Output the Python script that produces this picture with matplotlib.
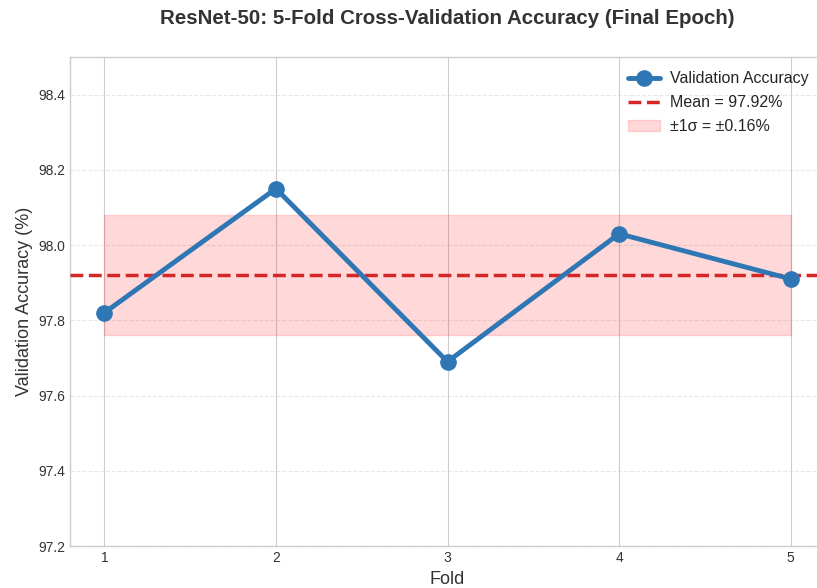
import numpy as np
import matplotlib
matplotlib.use("Agg")
import matplotlib.pyplot as plt

plt.style.use("seaborn-v0_8-whitegrid")
plt.rcParams['font.family'] = ['Liberation Sans', 'DejaVu Sans']

folds = [1, 2, 3, 4, 5]
accuracy = [97.82, 98.15, 97.69, 98.03, 97.91]
yticks = [97.2, 97.4, 97.6, 97.8, 98.0, 98.2, 98.4]

mean_acc = np.mean(accuracy)
std_acc = np.std(accuracy)

fig = plt.figure(figsize=(8.17, 5.88), dpi=100)
W, H = 817, 588
ax = fig.add_axes([70 / W, 42 / H, 755 / W, 489 / H])

ax.plot(folds, accuracy, marker='o', color='#2f77b4', linewidth=3.5, markersize=11,
        label='Validation Accuracy', zorder=4)
ax.axhline(mean_acc, color='#d62728', linestyle='--', linewidth=2.5,
           label=f'Mean = {mean_acc:.2f}%', zorder=3)
ax.fill_between(folds, mean_acc - std_acc, mean_acc + std_acc, color='red', alpha=0.15,
                label=f'±1σ = ±{std_acc:.2f}%', zorder=1)

ax.set_xlim(0.8, 5.2)
ax.set_ylim(97.2, 98.5)
ax.set_xticks(folds)
ax.set_yticks(yticks)
ax.tick_params(axis='both', labelsize=10, colors='#333333')
ax.grid(axis='y', linestyle='--', alpha=0.45)
ax.set_xlabel('Fold', fontsize=13, color='#333333', labelpad=4.5)
ax.set_ylabel('Validation Accuracy (%)', fontsize=13, color='#333333')
fig.text(447 / W, 1 - 19 / H, 'ResNet-50: 5-Fold Cross-Validation Accuracy (Final Epoch)',
         ha='center', va='center', fontsize=14.8, fontweight='bold', color='#333333')
ax.legend(loc='upper right', fontsize=11.5, frameon=False, bbox_to_anchor=(0.997, 1.0),
          labelspacing=0.55, handlelength=2.0, handletextpad=0.6)

fig.savefig('out.png', dpi=100)
